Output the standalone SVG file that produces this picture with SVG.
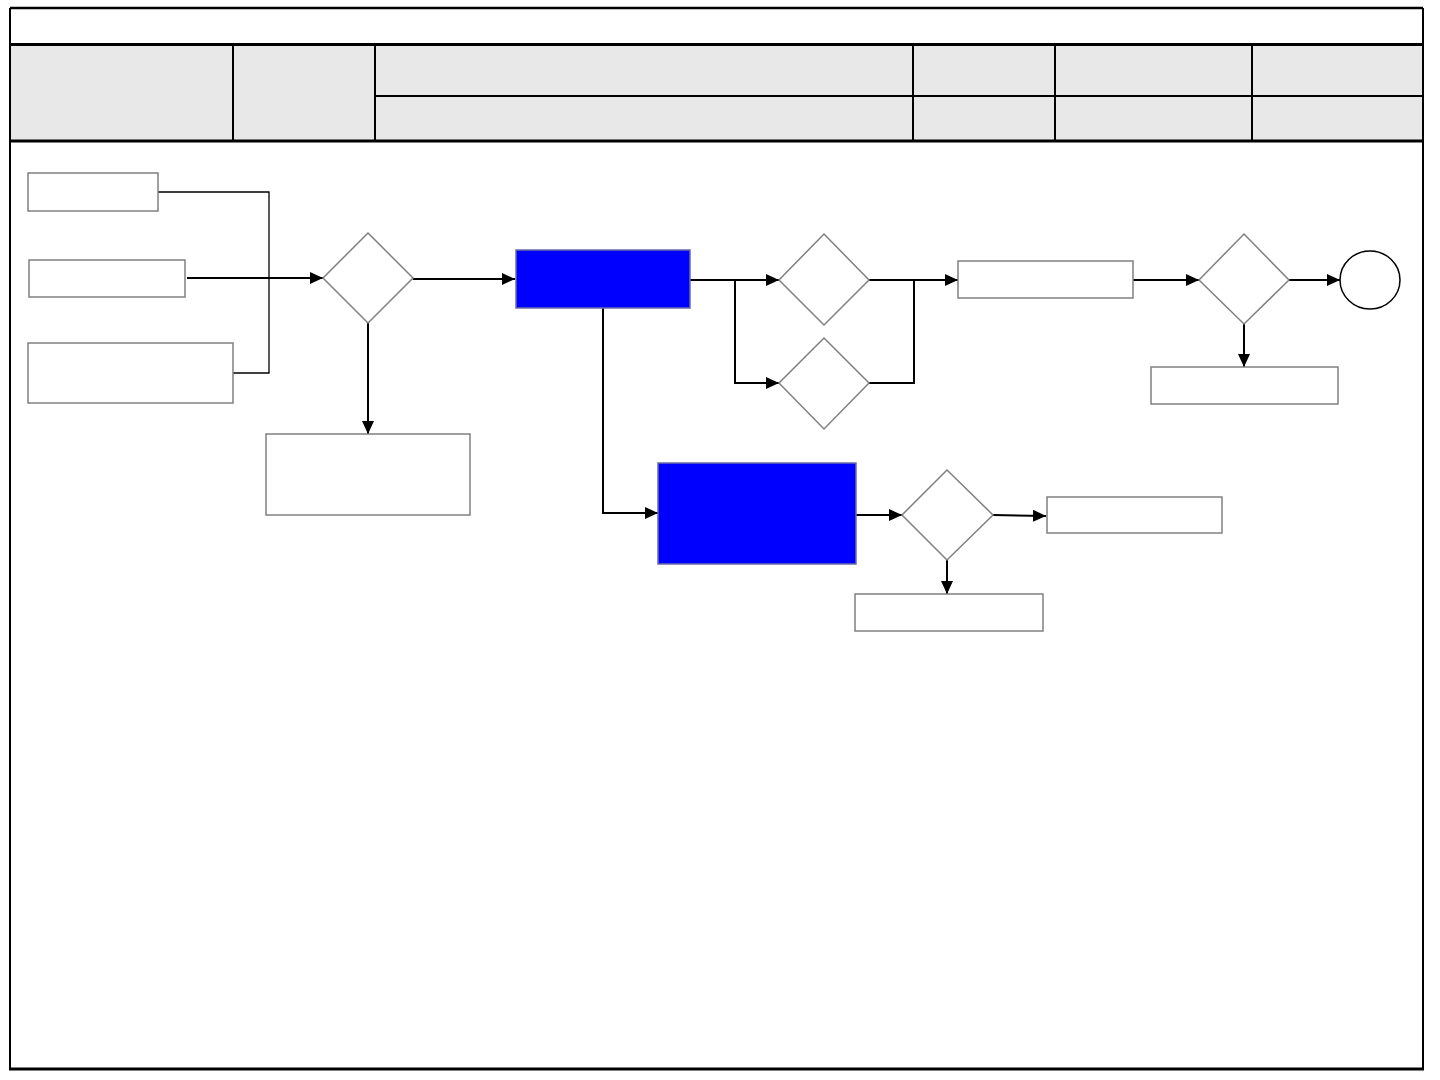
<svg xmlns="http://www.w3.org/2000/svg" width="1440" height="1080" viewBox="0 0 1440 1080">
<defs>
<marker id="ah" markerWidth="13" markerHeight="12" refX="13" refY="6" orient="auto" markerUnits="userSpaceOnUse">
<path d="M0,0 L13,6 L0,12 Z" fill="#000"/>
</marker>
<style>
.box{fill:#fff;stroke:#808080;stroke-width:1.5}
.blue{fill:#0000ff;stroke:#6b6ba8;stroke-width:1.5}
.dia{fill:#fff;stroke:#808080;stroke-width:1.5}
.c{fill:none;stroke:#000;stroke-width:2}
.ca{fill:none;stroke:#000;stroke-width:2;marker-end:url(#ah)}
.thin{fill:none;stroke:#000;stroke-width:1.3}
.hl{stroke:#000;stroke-width:2}
</style>
</defs>
<rect width="1440" height="1080" fill="#fff"/>
<g id="frame">
<rect x="10" y="45" width="1412" height="95" fill="#e8e8e8"/>
<line x1="10" y1="8" x2="1423" y2="8" stroke="#000" stroke-width="2.5"/>
<line class="hl" x1="10" y1="8" x2="10" y2="1070"/>
<line class="hl" x1="1423" y1="8" x2="1423" y2="1070"/>
<line x1="9" y1="1069" x2="1424" y2="1069" stroke="#000" stroke-width="3"/>
<line x1="10" y1="44.5" x2="1422" y2="44.5" stroke="#000" stroke-width="3"/>
<line x1="10" y1="141" x2="1422" y2="141" stroke="#000" stroke-width="3"/>
<line class="hl" x1="375" y1="96" x2="1422" y2="96"/>
<line class="hl" x1="233" y1="45" x2="233" y2="140"/>
<line class="hl" x1="375" y1="45" x2="375" y2="140"/>
<line class="hl" x1="913" y1="45" x2="913" y2="140"/>
<line class="hl" x1="1055" y1="45" x2="1055" y2="140"/>
<line class="hl" x1="1252" y1="45" x2="1252" y2="140"/>
</g>
<g id="connectors">
<polyline class="thin" points="158,192 269,192 269,373 233,373"/>
<line class="ca" x1="187" y1="278" x2="323" y2="278"/>
<line class="ca" x1="368" y1="323" x2="368" y2="434"/>
<line class="ca" x1="413" y1="279" x2="515" y2="279"/>
<line class="ca" x1="690" y1="280" x2="779" y2="280"/>
<polyline class="ca" points="735,280 735,383 779,383"/>
<line class="ca" x1="869" y1="280" x2="958" y2="280"/>
<polyline class="c" points="869,383 914,383 914,280"/>
<line class="ca" x1="1133" y1="280" x2="1199" y2="280"/>
<line class="ca" x1="1289" y1="280" x2="1340" y2="280"/>
<line class="ca" x1="1244" y1="324" x2="1244" y2="367"/>
<polyline class="ca" points="603,308 603,513 658,513"/>
<line class="ca" x1="856" y1="515" x2="902" y2="515"/>
<line class="ca" x1="993" y1="515" x2="1046" y2="516"/>
<line class="ca" x1="947" y1="560" x2="947" y2="594"/>
</g>
<g id="n_a"><rect class="box" x="28" y="173" width="130" height="38"/></g>
<g id="n_b"><rect class="box" x="29" y="260" width="156" height="37"/></g>
<g id="n_c"><rect class="box" x="28" y="343" width="205" height="60"/></g>
<g id="n_d1"><polygon class="dia" points="368,233 413,278 368,323 323,278"/></g>
<g id="n_d"><rect class="box" x="266" y="434" width="204" height="81"/></g>
<g id="n_blue1"><rect class="blue" x="516" y="250" width="174" height="58"/></g>
<g id="n_d2"><polygon class="dia" points="824,234 869,280 824,325 779,280"/></g>
<g id="n_d3"><polygon class="dia" points="824,338 869,383 824,429 779,383"/></g>
<g id="n_e"><rect class="box" x="958" y="261" width="175" height="37"/></g>
<g id="n_d4"><polygon class="dia" points="1244,234 1289,280 1244,324 1199,280"/></g>
<g id="n_end"><ellipse cx="1370" cy="280" rx="30" ry="29" fill="#fff" stroke="#000" stroke-width="1.5"/></g>
<g id="n_f"><rect class="box" x="1151" y="367" width="187" height="37"/></g>
<g id="n_blue2"><rect class="blue" x="658" y="463" width="198" height="101"/></g>
<g id="n_d5"><polygon class="dia" points="947,470 993,515 947,560 902,515"/></g>
<g id="n_g"><rect class="box" x="1047" y="497" width="175" height="36"/></g>
<g id="n_h"><rect class="box" x="855" y="594" width="188" height="37"/></g>
</svg>
